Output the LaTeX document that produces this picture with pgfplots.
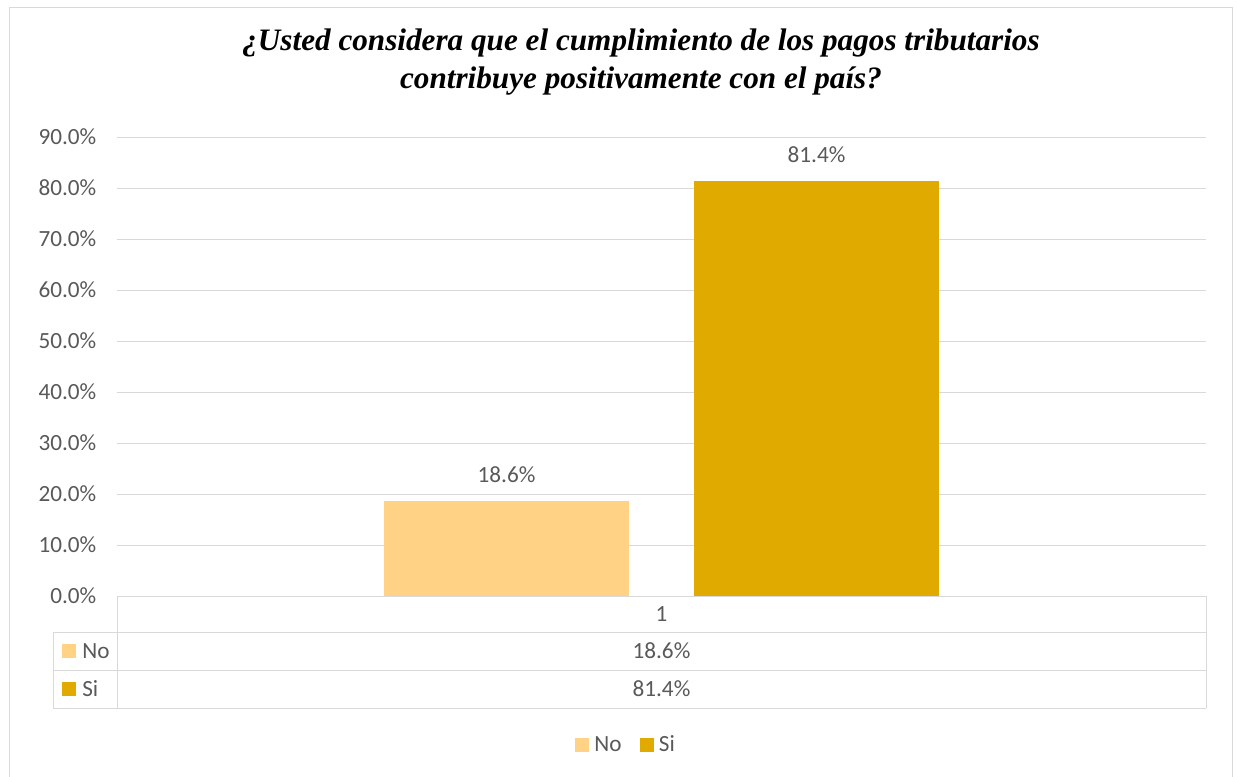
\documentclass[border=0pt]{standalone}
\usepackage{fontspec}
\setmainfont{Carlito}
\newfontfamily\titlefont{Liberation Serif}
\usepackage{pgfplots}
\pgfplotsset{compat=1.18}
\definecolor{noC}{HTML}{FFD286}
\definecolor{siC}{HTML}{E1AA00}
\definecolor{txt}{HTML}{595959}
\definecolor{gridc}{HTML}{D9D9D9}
\newcommand\lbl{\fontsize{17.4}{20}\selectfont}
\begin{document}
\begin{tikzpicture}
\useasboundingbox (0,0) rectangle (927.75pt,582pt);
\draw[gridc, line width=0.75pt] (6.75pt,-5pt) rectangle (924pt,576pt);
\node[font=\titlefont\bfseries\itshape\fontsize{23.4}{29}\selectfont, align=center, text=black] at (480.75pt,535.5pt)
  {¿Usted considera que el cumplimiento de los pagos tributarios\\contribuye positivamente con el país?};
\begin{axis}[
  at={(87.75pt,135pt)}, anchor=south west,
  scale only axis, width=816.75pt, height=344.25pt,
  xmin=-0.5, xmax=0.5, ymin=0, ymax=90,
  ybar=48.75pt, bar width=183.75pt,
  axis line style={draw=none},
  ytick={0,10,...,90}, xtick=\empty,
  ymajorgrids, grid style={gridc, line width=0.75pt},
  major tick length=0pt,
  yticklabel={\pgfmathprintnumber[fixed,fixed zerofill,precision=1,assume math mode=true]{\tick}\%},
  yticklabel style={font=\lbl, text=txt, xshift=-12pt},
  nodes near coords={\pgfmathprintnumber[fixed,fixed zerofill,precision=1,assume math mode=true]{\pgfplotspointmeta}\%},
  nodes near coords style={font=\lbl, text=txt, anchor=center, yshift=19.5pt},
  legend style={at={(0.4674,-0.3246)}, anchor=center, draw=none, legend columns=2, font=\lbl, text=txt,
    nodes={inner sep=1.5pt},
    /tikz/every odd column/.append style={column sep=2.5pt},
    /tikz/every even column/.append style={column sep=12pt}},
  legend image code/.code={\fill[#1] (0pt,-5.25pt) rectangle (10.5pt,5.25pt);},
  clip=false,
]
\addplot[fill=noC, draw=none] coordinates {(0,18.6)};
\addplot[fill=siC, draw=none] coordinates {(0,81.4)};
\legend{No,Si}
\end{axis}
% data table
\draw[gridc, line width=0.75pt] (87.75pt,135pt) -- (904.5pt,135pt);
\draw[gridc, line width=0.75pt] (39.75pt,108pt) -- (904.5pt,108pt);
\draw[gridc, line width=0.75pt] (39.75pt,79.5pt) -- (904.5pt,79.5pt);
\draw[gridc, line width=0.75pt] (39.75pt,51pt) -- (904.5pt,51pt);
\draw[gridc, line width=0.75pt] (87.75pt,135pt) -- (87.75pt,51pt);
\draw[gridc, line width=0.75pt] (904.5pt,135pt) -- (904.5pt,51pt);
\draw[gridc, line width=0.75pt] (39.75pt,108pt) -- (39.75pt,51pt);
\node[font=\lbl, text=txt] at (496.1pt,121.5pt) {1};
\node[font=\lbl, text=txt] at (496.1pt,93.75pt) {18.6\%};
\node[font=\lbl, text=txt] at (496.1pt,65.25pt) {81.4\%};
\fill[noC] (46.5pt,88.5pt) rectangle (57pt,99pt);
\fill[siC] (46.5pt,60pt) rectangle (57pt,70.5pt);
\node[font=\lbl, text=txt, anchor=west, inner sep=0pt] at (61.5pt,93.75pt) {No};
\node[font=\lbl, text=txt, anchor=west, inner sep=0pt] at (61.5pt,65.25pt) {Si};
\end{tikzpicture}
\end{document}
